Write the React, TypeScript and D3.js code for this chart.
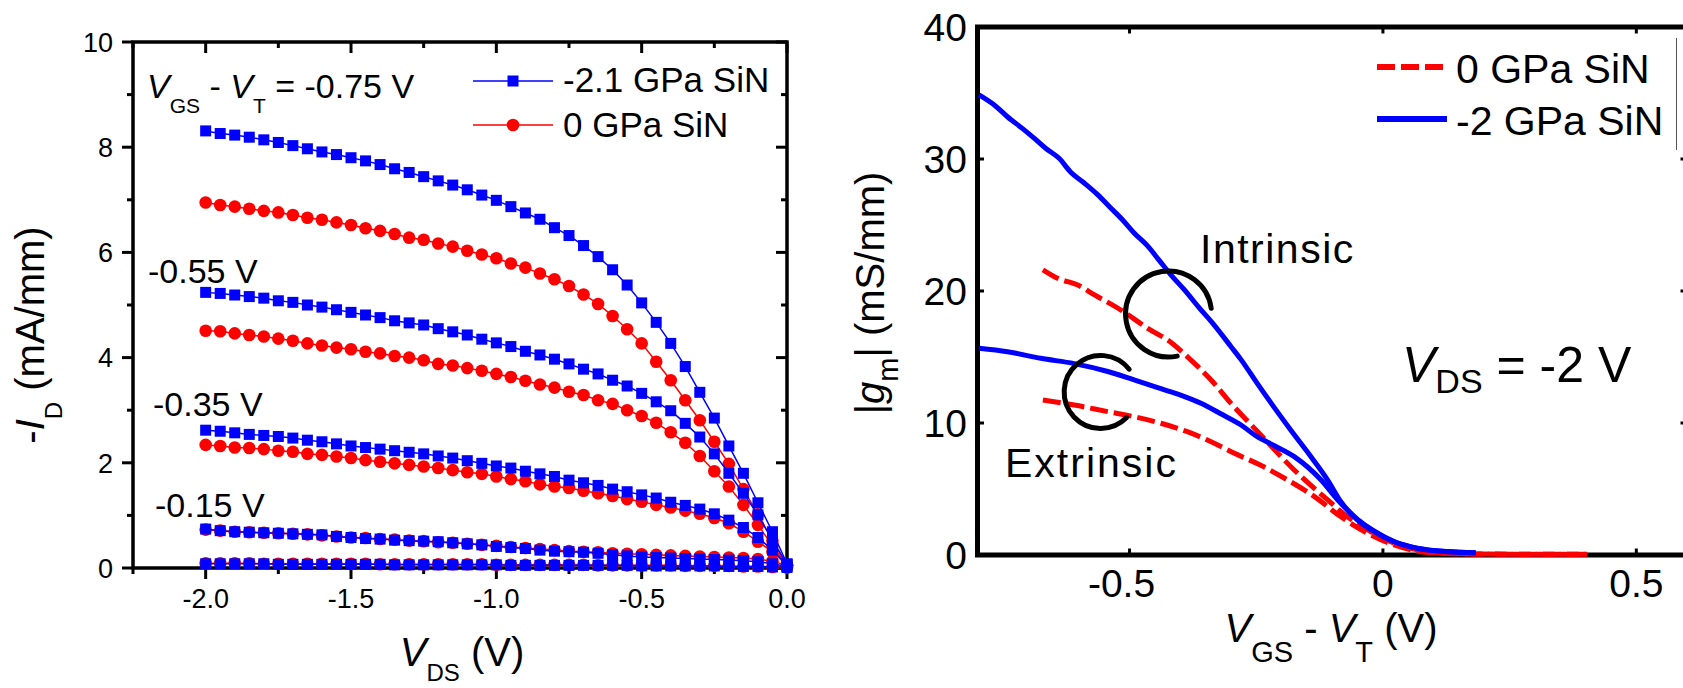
import React, { useEffect } from 'react';
import * as d3 from 'd3';

const FONT = '"Liberation Sans", Arial, Helvetica, sans-serif';
const BLUE = '#0000ff';
const RED = '#ff0000';

// ---------- Left panel: output characteristics -I_D vs V_DS ----------
const vdsSteps = [
  -2.0, -1.95, -1.9, -1.85, -1.8, -1.75, -1.7, -1.65, -1.6, -1.55, -1.5, -1.45, -1.4, -1.35,
  -1.3, -1.25, -1.2, -1.15, -1.1, -1.05, -1.0, -0.95, -0.9, -0.85, -0.8, -0.75, -0.7, -0.65,
  -0.6, -0.55, -0.5, -0.45, -0.4, -0.35, -0.3, -0.25, -0.2, -0.15, -0.1, -0.05, 0.0,
];

// -2.1 GPa SiN (mA/mm), one array per gate overdrive
const idStrained075 = [8.31, 8.26, 8.23, 8.19, 8.14, 8.09, 8.03, 7.97, 7.91, 7.86, 7.8, 7.74, 7.67, 7.59, 7.52, 7.44, 7.36, 7.28, 7.19, 7.09, 6.99, 6.87, 6.75, 6.63, 6.47, 6.32, 6.13, 5.92, 5.67, 5.38, 5.04, 4.67, 4.27, 3.83, 3.34, 2.85, 2.32, 1.8, 1.24, 0.69, 0.08];
const idStrained055 = [5.24, 5.22, 5.19, 5.16, 5.13, 5.08, 5.05, 5.0, 4.96, 4.91, 4.86, 4.81, 4.76, 4.7, 4.66, 4.62, 4.55, 4.49, 4.43, 4.35, 4.28, 4.21, 4.12, 4.05, 3.97, 3.88, 3.78, 3.69, 3.57, 3.46, 3.32, 3.16, 2.99, 2.75, 2.49, 2.17, 1.8, 1.42, 1.01, 0.53, 0.07];
const idStrained035 = [2.62, 2.6, 2.57, 2.54, 2.52, 2.5, 2.47, 2.43, 2.4, 2.36, 2.32, 2.29, 2.26, 2.23, 2.2, 2.17, 2.13, 2.09, 2.04, 1.99, 1.94, 1.9, 1.84, 1.79, 1.74, 1.67, 1.62, 1.57, 1.5, 1.45, 1.39, 1.33, 1.25, 1.19, 1.12, 1.03, 0.91, 0.77, 0.58, 0.34, 0.06];
const idStrained015 = [0.74, 0.71, 0.69, 0.68, 0.67, 0.66, 0.65, 0.64, 0.63, 0.6, 0.58, 0.56, 0.55, 0.53, 0.52, 0.51, 0.5, 0.48, 0.46, 0.44, 0.41, 0.39, 0.37, 0.34, 0.32, 0.31, 0.3, 0.28, 0.25, 0.23, 0.21, 0.2, 0.19, 0.18, 0.17, 0.16, 0.15, 0.14, 0.12, 0.08, 0.03];
const idStrained005 = [0.08, 0.08, 0.08, 0.08, 0.08, 0.07, 0.07, 0.07, 0.07, 0.07, 0.07, 0.07, 0.07, 0.06, 0.06, 0.06, 0.06, 0.06, 0.06, 0.06, 0.06, 0.05, 0.05, 0.05, 0.05, 0.05, 0.05, 0.05, 0.05, 0.05, 0.04, 0.04, 0.04, 0.04, 0.04, 0.04, 0.03, 0.03, 0.03, 0.02, 0.01];

// 0 GPa SiN (mA/mm)
const idRelaxed075 = [6.95, 6.9, 6.87, 6.83, 6.79, 6.76, 6.71, 6.66, 6.62, 6.57, 6.52, 6.46, 6.41, 6.35, 6.28, 6.24, 6.17, 6.11, 6.03, 5.96, 5.89, 5.79, 5.71, 5.6, 5.49, 5.36, 5.2, 5.02, 4.79, 4.54, 4.27, 3.92, 3.57, 3.19, 2.81, 2.4, 1.98, 1.5, 1.02, 0.52, 0.05];
const idRelaxed055 = [4.51, 4.5, 4.46, 4.43, 4.4, 4.36, 4.32, 4.27, 4.23, 4.19, 4.16, 4.11, 4.08, 4.03, 4.0, 3.95, 3.88, 3.85, 3.8, 3.75, 3.69, 3.63, 3.56, 3.49, 3.43, 3.35, 3.29, 3.19, 3.12, 3.0, 2.89, 2.76, 2.58, 2.38, 2.13, 1.84, 1.55, 1.2, 0.82, 0.42, 0.05];
const idRelaxed035 = [2.34, 2.32, 2.29, 2.28, 2.26, 2.23, 2.21, 2.17, 2.15, 2.12, 2.09, 2.05, 2.02, 1.99, 1.96, 1.93, 1.9, 1.86, 1.82, 1.79, 1.74, 1.69, 1.65, 1.59, 1.55, 1.52, 1.47, 1.42, 1.37, 1.31, 1.26, 1.2, 1.15, 1.09, 1.03, 0.95, 0.85, 0.69, 0.5, 0.31, 0.05];
const idRelaxed015 = [0.73, 0.71, 0.69, 0.68, 0.67, 0.66, 0.65, 0.64, 0.62, 0.6, 0.58, 0.57, 0.55, 0.54, 0.52, 0.51, 0.49, 0.48, 0.46, 0.44, 0.42, 0.4, 0.38, 0.36, 0.34, 0.32, 0.31, 0.3, 0.28, 0.27, 0.26, 0.25, 0.24, 0.23, 0.22, 0.21, 0.2, 0.19, 0.17, 0.13, 0.05];
const idRelaxed005 = [0.09, 0.09, 0.09, 0.09, 0.08, 0.08, 0.08, 0.08, 0.08, 0.08, 0.08, 0.08, 0.07, 0.07, 0.07, 0.07, 0.07, 0.07, 0.07, 0.07, 0.06, 0.06, 0.06, 0.06, 0.06, 0.06, 0.06, 0.05, 0.05, 0.05, 0.05, 0.05, 0.05, 0.04, 0.04, 0.04, 0.04, 0.03, 0.03, 0.02, 0.01];

const leftXTicks = [-2.0, -1.5, -1.0, -0.5, 0.0];
const leftXMinor = [-2.25, -1.75, -1.25, -0.75, -0.25];
const leftYTicks = [0, 2, 4, 6, 8, 10];
const leftYMinor = [1, 3, 5, 7, 9];
const leftLegend = ['-2.1 GPa SiN', '0 GPa SiN'];
const overdriveLabels = ['-0.55 V', '-0.35 V', '-0.15 V'];

// ---------- Right panel: transconductance |g_m| vs V_GS - V_T ----------
const gmStrainedIntX = [-0.797, -0.764, -0.741, -0.711, -0.689, -0.665, -0.639, -0.616, -0.59, -0.563, -0.54, -0.514, -0.491, -0.464, -0.441, -0.418, -0.392, -0.362, -0.339, -0.3, -0.28, -0.248, -0.215, -0.182, -0.142, -0.109, -0.083, -0.05, -0.017, 0.022, 0.068, 0.128, 0.183];
const gmStrainedIntY = [34.85, 34.0, 33.2, 32.3, 31.6, 30.8, 30.05, 29.0, 28.2, 27.3, 26.4, 25.4, 24.4, 23.4, 22.3, 21.2, 20.1, 18.7, 17.7, 15.8, 14.8, 13.0, 11.2, 9.47, 7.45, 5.68, 4.04, 2.65, 1.77, 1.0, 0.5, 0.25, 0.17];
const gmStrainedExtX = [-0.797, -0.741, -0.675, -0.609, -0.543, -0.491, -0.438, -0.398, -0.359, -0.32, -0.28, -0.248, -0.215, -0.175, -0.122, -0.089, -0.05, -0.017, 0.022, 0.068, 0.128, 0.183];
const gmStrainedExtY = [15.66, 15.4, 14.9, 14.5, 13.9, 13.26, 12.6, 12.1, 11.5, 10.7, 9.85, 8.96, 8.3, 7.45, 5.68, 4.17, 2.7, 1.8, 1.02, 0.52, 0.26, 0.17];
const gmRelaxedIntX = [-0.671, -0.642, -0.602, -0.569, -0.517, -0.464, -0.418, -0.379, -0.339, -0.3, -0.241, -0.175, -0.109, -0.07, -0.03, 0.022, 0.075, 0.12, 0.2, 0.3, 0.403];
const gmRelaxedIntY = [21.6, 20.96, 20.45, 19.7, 18.56, 17.17, 16.1, 14.77, 13.26, 11.5, 9.1, 6.44, 4.17, 2.9, 1.9, 0.89, 0.33, 0.13, 0.07, 0.06, 0.05];
const gmRelaxedExtX = [-0.671, -0.609, -0.543, -0.491, -0.438, -0.386, -0.339, -0.293, -0.241, -0.188, -0.135, -0.083, -0.03, 0.022, 0.075, 0.12, 0.2, 0.3, 0.403];
const gmRelaxedExtY = [11.74, 11.36, 10.86, 10.48, 9.98, 9.34, 8.58, 7.7, 6.8, 5.68, 4.42, 2.9, 1.64, 0.76, 0.25, 0.12, 0.07, 0.06, 0.05];

const rightXTicks = [-0.5, 0, 0.5];
const rightYTicks = [0, 10, 20, 30, 40];
const rightLegend = ['0 GPa SiN', '-2 GPa SiN'];

// Output-curve table built from the arrays above
const relaxedSeries = [idRelaxed075, idRelaxed055, idRelaxed035, idRelaxed015, idRelaxed005];
const strainedSeries = [idStrained075, idStrained055, idStrained035, idStrained015, idStrained005];

function LeftPanel() {
  const x = d3.scaleLinear().domain([-2.25, 0]).range([133, 787]);
  const y = d3.scaleLinear().domain([0, 10]).range([568, 42]);
  const [x0, x1] = x.range();
  const [y0, y1] = y.range();
  const line = d3
    .line<number>()
    .x((_, i) => x(vdsSteps[i]))
    .y((d) => y(d));
  const MAJ = 11;
  const MIN = 6;
  const tick = { stroke: '#000', strokeWidth: 3 };

  return (
    <g>
      {/* frame */}
      <rect x={x0} y={y1} width={x1 - x0} height={y0 - y1} fill="none" stroke="#000" strokeWidth={3.5} />
      {/* x ticks: outward at bottom, inward at top */}
      {leftXTicks.map((v) => (
        <g key={'xt' + v}>
          <line x1={x(v)} x2={x(v)} y1={y0} y2={y0 + MAJ} {...tick} />
          <line x1={x(v)} x2={x(v)} y1={y1} y2={y1 + MAJ} {...tick} />
          <text x={x(v)} y={608} fontSize={27} textAnchor="middle">
            {v.toFixed(1)}
          </text>
        </g>
      ))}
      {leftXMinor.map((v) => (
        <g key={'xm' + v}>
          <line x1={x(v)} x2={x(v)} y1={y0} y2={y0 + MIN} {...tick} />
          <line x1={x(v)} x2={x(v)} y1={y1} y2={y1 + MIN} {...tick} />
        </g>
      ))}
      {/* y ticks: outward at left, inward at right */}
      {leftYTicks.map((v) => (
        <g key={'yt' + v}>
          <line x1={x0 - MAJ} x2={x0} y1={y(v)} y2={y(v)} {...tick} />
          <line x1={x1 - MAJ} x2={x1} y1={y(v)} y2={y(v)} {...tick} />
          <text x={113} y={y(v) + 9.7} fontSize={27} textAnchor="end">
            {String(v)}
          </text>
        </g>
      ))}
      {leftYMinor.map((v) => (
        <g key={'ym' + v}>
          <line x1={x0 - MIN} x2={x0} y1={y(v)} y2={y(v)} {...tick} />
          <line x1={x1 - MIN} x2={x1} y1={y(v)} y2={y(v)} {...tick} />
        </g>
      ))}

      {/* axis titles */}
      <text x={462} y={666} fontSize={40} textAnchor="middle" style={{ whiteSpace: 'pre' }}>
        <tspan fontStyle="italic">V</tspan>
        <tspan fontSize={24} dy={15}>DS</tspan>
        <tspan dy={-15}> (V)</tspan>
      </text>
      <text transform="translate(44,335) rotate(-90)" fontSize={40} textAnchor="middle" style={{ whiteSpace: 'pre' }}>
        <tspan>-</tspan>
        <tspan fontStyle="italic">I</tspan>
        <tspan fontSize={24} dy={18}>D</tspan>
        <tspan dy={-18}> (mA/mm)</tspan>
      </text>

      {/* 0 GPa curves underneath */}
      {relaxedSeries.map((s, k) => (
        <g key={'r' + k}>
          <path d={line(s) || ''} fill="none" stroke={RED} strokeWidth={1.5} />
          {s.map((v, i) => (
            <circle key={i} cx={x(vdsSteps[i])} cy={y(v)} r={6.3} fill={RED} />
          ))}
        </g>
      ))}
      {/* -2.1 GPa curves on top */}
      {strainedSeries.map((s, k) => (
        <g key={'b' + k}>
          <path d={line(s) || ''} fill="none" stroke={BLUE} strokeWidth={1.5} />
          {s.map((v, i) => (
            <rect key={i} x={x(vdsSteps[i]) - 5.5} y={y(v) - 5.5} width={11} height={11} fill={BLUE} />
          ))}
        </g>
      ))}

      {/* gate overdrive annotations */}
      <text x={147} y={98} fontSize={34} style={{ whiteSpace: 'pre' }}>
        <tspan fontStyle="italic">V</tspan>
        <tspan fontSize={21} dy={15}>GS</tspan>
        <tspan dy={-15}> - </tspan>
        <tspan fontStyle="italic">V</tspan>
        <tspan fontSize={21} dy={15}>T</tspan>
        <tspan dy={-15}> = -0.75 V</tspan>
      </text>
      <text x={148} y={283} fontSize={34}>{overdriveLabels[0]}</text>
      <text x={153} y={416} fontSize={34}>{overdriveLabels[1]}</text>
      <text x={155} y={517} fontSize={34}>{overdriveLabels[2]}</text>

      {/* legend */}
      <g>
        <line x1={473} x2={553} y1={81} y2={81} stroke={BLUE} strokeWidth={1.5} />
        <rect x={513 - 5.5} y={81 - 5.5} width={11} height={11} fill={BLUE} />
        <text x={563} y={92} fontSize={35}>{leftLegend[0]}</text>
        <line x1={473} x2={553} y1={125} y2={125} stroke={RED} strokeWidth={1.5} />
        <circle cx={513} cy={125} r={6.3} fill={RED} />
        <text x={563} y={137} fontSize={35}>{leftLegend[1]}</text>
      </g>
    </g>
  );
}

function RightPanel() {
  const x = d3.scaleLinear().domain([-0.8, 0.6]).range([977.5, 1687]);
  const y = d3.scaleLinear().domain([0, 40]).range([555, 27]);
  const [x0, x1] = x.range();
  const [y0, y1] = y.range();
  const curve = (xs: number[], ys: number[]) =>
    d3
      .line<number>()
      .x((d) => x(d))
      .y((_, i) => y(ys[i]))
      .curve(d3.curveMonotoneX)(xs) || '';
  const tick = { stroke: '#000', strokeWidth: 3 };
  const T = 6.5;

  // hand-drawn "C" marks grouping intrinsic/extrinsic pairs
  const arcPath = (cx: number, cy: number, r: number, a0: number, a1: number) => {
    const p = d3.path();
    p.arc(cx, cy, r, a0, a1, true);
    return p.toString();
  };
  const deg = Math.PI / 180;

  return (
    <g>
      <rect x={x0} y={y1} width={x1 - x0} height={y0 - y1} fill="none" stroke="#000" strokeWidth={5} />
      {rightXTicks.map((v) => (
        <g key={'xt' + v}>
          <line x1={x(v)} x2={x(v)} y1={y0} y2={y0 - T} {...tick} />
          <line x1={x(v)} x2={x(v)} y1={y1} y2={y1 + T} {...tick} />
          <text x={x(v) + (v < 0 ? -8 : 0)} y={597} fontSize={39} textAnchor="middle">
            {String(v)}
          </text>
        </g>
      ))}
      {rightYTicks.map((v) => (
        <g key={'yt' + v}>
          <line x1={x0} x2={x0 + T} y1={y(v)} y2={y(v)} {...tick} />
          <line x1={x1} x2={x1 - T} y1={y(v)} y2={y(v)} {...tick} />
          <text x={967} y={y(v) + 14} fontSize={39} textAnchor="end">
            {String(v)}
          </text>
        </g>
      ))}

      {/* axis titles */}
      <text x={1331} y={642} fontSize={40} textAnchor="middle" style={{ whiteSpace: 'pre' }}>
        <tspan fontStyle="italic">V</tspan>
        <tspan fontSize={29} dy={20}>GS</tspan>
        <tspan dy={-20}> - </tspan>
        <tspan fontStyle="italic">V</tspan>
        <tspan fontSize={29} dy={20}>T</tspan>
        <tspan dy={-20}> (V)</tspan>
      </text>
      <text transform="translate(884,293) rotate(-90)" fontSize={40} textAnchor="middle" style={{ whiteSpace: 'pre' }}>
        <tspan>|</tspan>
        <tspan fontStyle="italic">g</tspan>
        <tspan fontSize={29} dy={14}>m</tspan>
        <tspan dy={-14}>| (mS/mm)</tspan>
      </text>

      {/* data */}
      <path d={curve(gmRelaxedIntX, gmRelaxedIntY)} fill="none" stroke={RED} strokeWidth={5} strokeDasharray="18 6" />
      <path d={curve(gmRelaxedExtX, gmRelaxedExtY)} fill="none" stroke={RED} strokeWidth={5} strokeDasharray="18 6" />
      <path d={curve(gmStrainedIntX, gmStrainedIntY)} fill="none" stroke={BLUE} strokeWidth={5} />
      <path d={curve(gmStrainedExtX, gmStrainedExtY)} fill="none" stroke={BLUE} strokeWidth={5} />

      {/* annotations */}
      <path d={arcPath(x(-0.423), y(18.26), 43, -7.6 * deg, 78.4 * deg)} fill="none" stroke="#000" strokeWidth={5} strokeLinecap="round" />
      <path d={arcPath(x(-0.557), y(12.35), 36.5, -38.6 * deg, 44.6 * deg)} fill="none" stroke="#000" strokeWidth={5} strokeLinecap="round" />
      <text x={1200} y={263} fontSize={41} letterSpacing={1.5}>Intrinsic</text>
      <text x={1005} y={477} fontSize={41} letterSpacing={2}>Extrinsic</text>
      <text x={1402} y={382} fontSize={50} style={{ whiteSpace: 'pre' }}>
        <tspan fontStyle="italic">V</tspan>
        <tspan fontSize={34} dy={11}>DS</tspan>
        <tspan dy={-11}> = -2 V</tspan>
      </text>

      {/* legend */}
      <line x1={1377} x2={1447} y1={67} y2={67} stroke={RED} strokeWidth={6} strokeDasharray="18 6" />
      <text x={1456} y={83} fontSize={41}>{rightLegend[0]}</text>
      <line x1={1377} x2={1447} y1={119} y2={119} stroke={BLUE} strokeWidth={6} />
      <text x={1456} y={135} fontSize={41}>{rightLegend[1]}</text>
      <line x1={1676.5} x2={1676.5} y1={38} y2={150} stroke="#555" strokeWidth={1} />
    </g>
  );
}

export default function App() {
  useEffect(() => {
    document.body.style.margin = '0';
    document.body.style.overflow = 'hidden';
  }, []);
  return (
    <svg
      width={1683}
      height={688}
      viewBox="0 0 1683 688"
      style={{ position: 'absolute', left: 0, top: 0, background: '#fff' }}
      fontFamily={FONT}
      fill="#000"
    >
      <rect x={0} y={0} width={1683} height={688} fill="#fff" />
      <LeftPanel />
      <RightPanel />
    </svg>
  );
}
